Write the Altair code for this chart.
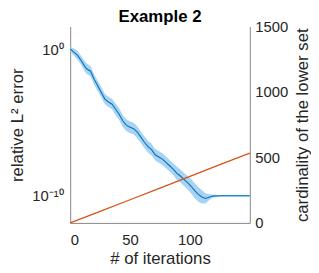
import altair as alt
import pandas as pd

# blue: relative L2 error (log10)
iters = [0, 3, 6, 9, 12, 14, 17, 20, 23, 26, 29, 32, 35, 38, 41, 44, 47, 50, 53, 56,
         59, 62, 65, 68, 71, 74, 77, 80, 83, 86, 89, 92, 95, 98, 101, 104, 107, 110, 113, 116,
         119, 125, 150]
log_err = [0.03, -0.2, -0.4, -0.75, -1.15, -1.35, -1.5, -2.05, -2.5, -2.95,
           -3.4, -3.6, -3.75, -4.1, -4.45, -4.9, -5.2, -5.33, -5.42, -5.65,
           -6.0, -6.35, -6.65, -6.85, -7.2, -7.35, -7.5, -7.72, -7.95, -8.18,
           -8.45, -8.65, -8.88, -9.1, -9.35, -9.65, -9.9, -10.08, -10.18, -10.1,
           -10.02, -10.0, -10.0]
band_hw = [0.15, 0.25, 0.3, 0.3, 0.35, 0.35, 0.35, 0.35, 0.35, 0.35,
           0.35, 0.35, 0.35, 0.4, 0.4, 0.4, 0.4, 0.4, 0.4, 0.4,
           0.4, 0.4, 0.4, 0.4, 0.4, 0.4, 0.4, 0.4, 0.4, 0.4,
           0.45, 0.45, 0.45, 0.45, 0.5, 0.5, 0.5, 0.45, 0.35, 0.2,
           0.1, 0.06, 0.06]

# orange: cardinality of the lower set
card_iters = [0, 25, 50, 75, 100, 125, 150]
card_vals = [0, 88, 177, 266, 356, 445, 533]

x_ticks = [0, 50, 100]
left_ticks = [1, 1e-10]
right_ticks = [0, 500, 1000, 1500]

df = pd.DataFrame({
    "it": iters,
    "err": [10 ** v for v in log_err],
    "lo": [10 ** (v - h) for v, h in zip(log_err, band_hw)],
    "hi": [10 ** (v + h) for v, h in zip(log_err, band_hw)],
})
dc = pd.DataFrame({"it": card_iters, "card": card_vals})

FONT = "Liberation Sans"
xscale = alt.Scale(domain=[0, 150], nice=False, zero=False)
xaxis = alt.Axis(values=x_ticks, title="# of iterations", ticks=False, labelPadding=10,
                 titlePadding=3, grid=False)
yl_scale = alt.Scale(type="log", domain=[10 ** -11.85, 10 ** 1.55], nice=False)
yl_axis = alt.Axis(values=left_ticks, orient="left", title="relative L² error", ticks=False,
                   labelPadding=7, titlePadding=6, grid=False,
                   labelExpr="datum.value == 1 ? '10⁰' : '10⁻¹⁰'")

band = alt.Chart(df).mark_area(color="#a9d3f2", opacity=1).encode(
    x=alt.X("it:Q", scale=xscale, axis=xaxis),
    y=alt.Y("lo:Q", scale=yl_scale, axis=yl_axis),
    y2="hi:Q",
)
line = alt.Chart(df).mark_line(color="#0072BD", strokeWidth=1.1).encode(
    x=alt.X("it:Q", scale=xscale),
    y=alt.Y("err:Q", scale=yl_scale),
)
left = alt.layer(band, line)

right = alt.Chart(dc).mark_line(color="#D95319", strokeWidth=1.3).encode(
    x=alt.X("it:Q", scale=xscale),
    y=alt.Y("card:Q", scale=alt.Scale(domain=[0, 1500], nice=False),
            axis=alt.Axis(orient="right", values=right_ticks, title="cardinality of the lower set",
                          format="d", ticks=False, labelPadding=5, titlePadding=7, grid=False,
                          titleAngle=270, titleBaseline="top")),
)

chart = alt.layer(left, right).resolve_scale(y="independent").properties(
    width=182, height=199,
    autosize=alt.AutoSizeParams(type="none"),
    padding={"left": 63, "top": 17, "right": 62, "bottom": 48},
    title=alt.TitleParams("Example 2", fontSize=17, fontWeight="bold", font=FONT,
                          offset=-6, anchor="middle", color="black", frame="group"),
).configure_view(stroke=None).configure_axis(
    labelFont=FONT, titleFont=FONT, labelFontSize=15, titleFontSize=17,
    titleFontWeight="normal", labelColor="#262626", titleColor="#262626",
    domainColor="#858585", domainWidth=1,
)

chart.save("out.html", embed_options={"renderer": "svg", "actions": False})
